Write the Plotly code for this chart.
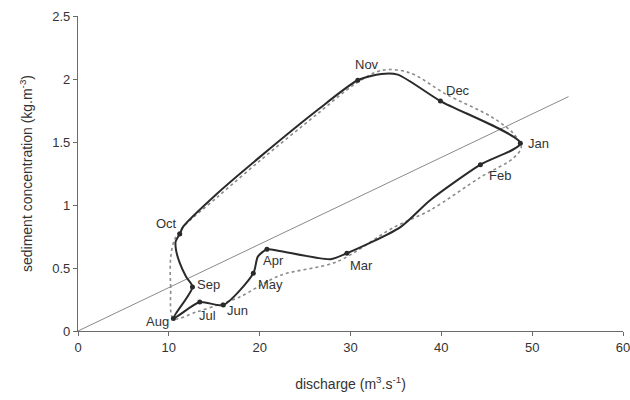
import plotly.graph_objects as go

# Monthly observed values (markers + labels)
months = ["Aug", "Sep", "Oct", "Nov", "Dec", "Jan", "Feb", "Mar", "Apr", "May", "Jun", "Jul"]
discharge = [10.5, 12.6, 11.2, 30.8, 39.9, 48.7, 44.3, 29.6, 20.8, 19.3, 16.0, 13.4]
concentration = [0.10, 0.35, 0.77, 1.99, 1.825, 1.49, 1.32, 0.617, 0.648, 0.458, 0.206, 0.23]

obs_q = [10.5, 12.6, 11.9, 11.2, 10.8, 10.75, 11.2, 11.6, 15.3, 20.0, 26.3, 30.8, 33.4, 35.2, 39.9, 48.7,
         44.3, 38.8, 35.5, 29.6, 27.8, 22.2, 20.8, 19.8, 19.3, 16.0, 13.4, 10.5]
obs_c = [0.10, 0.35, 0.43, 0.54, 0.64, 0.71, 0.77, 0.83, 1.09, 1.38, 1.75, 1.99, 2.04, 2.035, 1.825, 1.49,
         1.32, 1.04, 0.825, 0.617, 0.57, 0.635, 0.648, 0.59, 0.458, 0.206, 0.23, 0.10]

# Modelled loop (dotted)
model_q = [10.5, 10.2, 10.2, 10.6, 11.5, 15.3, 20.0, 26.3, 30.5, 33.5, 36.5, 40.5, 45.5, 47.9,
           48.8, 47.9, 44.3, 38.8, 34.7, 28.5, 22.2, 17.8, 15.5, 13.0, 10.5]
model_c = [0.10, 0.35, 0.58, 0.72, 0.82, 1.06, 1.35, 1.72, 1.96, 2.07, 2.05, 1.88, 1.70, 1.57,
           1.46, 1.37, 1.22, 0.96, 0.82, 0.55, 0.44, 0.27, 0.21, 0.15, 0.10]

# Reference straight line
line_q = [0, 54.0]
line_c = [0, 1.86]

# label offsets (pixels): month -> (xshift, yshift)
label_offsets = [(-16, -3), (16, 2), (-13, 10), (9, 16), (18, 11), (18, 0), (20, -11),
                 (15, -12), (7, -11), (17, -11), (14, -5), (8, -13)]

fig = go.Figure()
fig.add_trace(go.Scatter(x=line_q, y=line_c, mode="lines",
                         line=dict(color="#8a8a8a", width=1), hoverinfo="skip"))
fig.add_trace(go.Scatter(x=model_q, y=model_c, mode="lines",
                         line=dict(color="#8a8a8a", width=1.6, dash="dot", shape="spline", smoothing=0.9)))
fig.add_trace(go.Scatter(x=obs_q, y=obs_c, mode="lines",
                         line=dict(color="#2a2a2a", width=2, shape="spline", smoothing=0.7)))
fig.add_trace(go.Scatter(x=discharge, y=concentration, mode="markers",
                         marker=dict(color="#2a2a2a", size=5)))

for m, q, c, (dx, dy) in zip(months, discharge, concentration, label_offsets):
    fig.add_annotation(x=q, y=c, text=m, showarrow=False, xshift=dx, yshift=dy,
                       font=dict(family="Liberation Sans, Arial, sans-serif", size=13, color="#333333"))

fig.update_layout(
    width=630, height=400,
    margin=dict(l=78, r=7, t=16, b=69),
    plot_bgcolor="white", paper_bgcolor="white",
    showlegend=False,
    font=dict(family="Liberation Sans, Arial, sans-serif", size=13, color="#333333"),
)
fig.update_xaxes(range=[0, 60], dtick=10, showgrid=False, zeroline=False, automargin=False,
                 showline=True, linecolor="#6a6a6a", linewidth=1.2,
                 ticks="outside", ticklen=4, tickcolor="#6a6a6a", ticklabeloverflow="allow",
                 title=dict(text="discharge (m<sup>3</sup>.s<sup>-1</sup>)", standoff=25,
                            font=dict(size=14)))
fig.update_yaxes(range=[0, 2.5], dtick=0.5, showgrid=False, zeroline=False, automargin=False,
                 showline=True, linecolor="#6a6a6a", linewidth=1.2,
                 ticks="outside", ticklen=4, tickcolor="#6a6a6a",
                 title=dict(text="sediment concentration (kg.m<sup>-3</sup>)", standoff=16,
                            font=dict(size=14)))

fig.write_html("out.html", config={"displayModeBar": False},
               post_script="document.body.style.margin='0';document.body.style.overflow='hidden';")
